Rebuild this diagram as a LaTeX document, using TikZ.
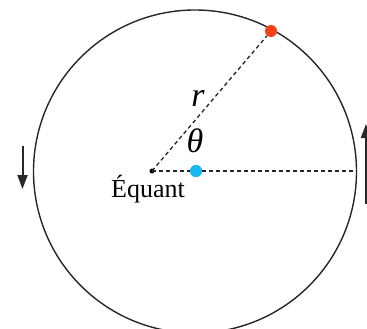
\documentclass[tikz,border=0pt]{standalone}
\usepackage{fontspec}
\setmainfont{Liberation Serif}
\usetikzlibrary{arrows.meta}
\definecolor{planetred}{RGB}{250,64,22}
\definecolor{centerblue}{RGB}{25,185,240}
\definecolor{arrowgray}{RGB}{40,40,40}
\tikzset{
  dot/.style={circle,inner sep=0pt,minimum size=#1},
  guide/.style={dashed,dash pattern=on 4pt off 3pt,line width=1.3pt,black!85},
  motion/.style={line width=2pt,arrowgray,-{Triangle[length=14pt,width=10pt]}},
  lbl/.style={font=\fontsize{26}{28}\selectfont,inner sep=0pt},
  mathlbl/.style={font=\fontsize{34}{36}\selectfont\itshape,inner sep=0pt}
}
\begin{document}
\begin{tikzpicture}[x=1pt,y=-1pt]
\useasboundingbox (0,0) rectangle (367,329);
\coordinate (c) at (195,171.5);
\draw[line width=1.4pt,black!85] (c) circle[radius=161.5];
\node[dot=5pt,fill=black] (equant) at (152,171) {};
\node[dot=12pt,fill=centerblue] (center) at (196,171) {};
\node[dot=12pt,fill=planetred] (planet) at (271,31) {};
\coordinate (edge) at (356.5,171);
\draw[guide] (equant.center) -- (planet);
\draw[guide] (equant.center) -- (center);
\draw[guide] (center) -- (edge);
\node[dot=12pt,fill=centerblue] at (center) {};
\node[mathlbl] (r) at (198,98) {r};
\node[mathlbl] (theta) at (195,141) {θ};
\node[lbl] (eqlabel) at (148,189) {Équant};
\coordinate (l1) at (22.5,146);
\coordinate (l2) at (22.5,189);
\draw[motion] (l1) -- (l2);
\coordinate (r1) at (366,204);
\coordinate (r2) at (366,124);
\draw[motion] (r1) -- (r2);
\end{tikzpicture}
\end{document}
